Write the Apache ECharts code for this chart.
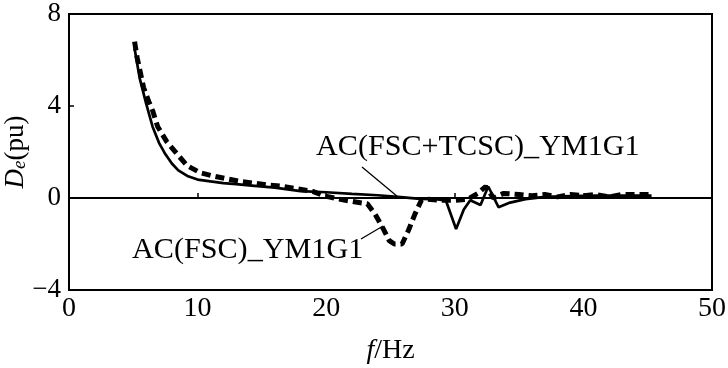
<!DOCTYPE html>
<html>
<head>
<meta charset="utf-8">
<script src="https://cdn.jsdelivr.net/npm/echarts@6/dist/echarts.min.js"></script>
<style>html,body{margin:0;padding:0;background:#fff;}#c{width:728px;height:368px;}</style>
</head>
<body>
<div id="c"></div>
<script>
const xTicks = [0, 10, 20, 30, 40, 50];
const yTicks = [-4, 0, 4, 8];

const fscName = 'AC(FSC)_YM1G1';
const fscX = [5.1, 5.3, 5.8, 6.2, 6.5, 6.9, 7.6, 8.5, 9.2, 10.2, 11.2, 12.3, 13.3, 14.3, 15.4, 16.4, 17.5, 19.0, 19.8, 21.0, 22.0, 22.8, 23.2, 23.8, 24.4, 24.9, 25.3, 25.9, 26.4, 26.9, 27.4, 27.8, 29.0, 30.0, 31.0, 31.8, 32.4, 33.0, 33.8, 35, 36, 37, 38, 39, 40, 41, 42, 43, 44, 45.3];
const fscY = [6.8, 6.1, 4.8, 4.2, 3.8, 3.1, 2.45, 1.85, 1.4, 1.1, 0.96, 0.83, 0.72, 0.65, 0.57, 0.52, 0.42, 0.28, 0.1, -0.05, -0.15, -0.22, -0.25, -0.7, -1.3, -1.85, -2.0, -2.0, -1.4, -0.7, -0.1, -0.05, -0.1, -0.1, -0.05, 0.2, 0.5, 0.0, 0.2, 0.15, 0.1, 0.15, 0.05, 0.15, 0.1, 0.15, 0.05, 0.15, 0.15, 0.15];

const tcscName = 'AC(FSC+TCSC)_YM1G1';
const tcscX = [5.1, 5.5, 6.0, 6.5, 7.0, 7.5, 8.0, 8.5, 9.2, 10.0, 11.0, 12.0, 13.0, 14.0, 16.0, 18.0, 20.0, 22.0, 24.0, 25.8, 27.3, 28.5, 29.3, 30.1, 30.7, 31.2, 32.0, 32.6, 33.4, 34.3, 35.5, 37, 39, 41, 43, 45.3];
const tcscY = [6.5, 5.2, 4.1, 3.1, 2.4, 1.9, 1.5, 1.2, 0.96, 0.8, 0.72, 0.65, 0.6, 0.55, 0.45, 0.3, 0.25, 0.18, 0.12, 0.04, -0.04, -0.05, -0.1, -1.35, -0.5, -0.1, -0.3, 0.5, -0.4, -0.2, -0.05, 0.05, 0.08, 0.1, 0.1, 0.1];

const FONT = '"Liberation Serif", "Times New Roman", serif';
const pairs = (xs, ys) => xs.map((x, i) => [x, ys[i]]);

const chart = echarts.init(document.getElementById('c'), null, {renderer: 'canvas'});
chart.setOption({
  animation: false,
  backgroundColor: '#fff',
  grid: {left: 69, right: 16, top: 14, bottom: 78, containLabel: false, outerBoundsMode: 'none',
         show: true, borderColor: '#000', borderWidth: 2, backgroundColor: 'transparent'},
  xAxis: {
    type: 'value', min: xTicks[0], max: xTicks[xTicks.length - 1], interval: 10,
    axisLine: {lineStyle: {color: '#000', width: 2}},
    axisTick: {inside: true, length: 5, lineStyle: {color: '#000', width: 1.5}},
    splitLine: {show: false},
    axisLabel: {color: '#000', fontFamily: FONT, fontSize: 28, margin: 5},
    name: '{i|f}{n|/Hz}', nameLocation: 'middle', nameGap: 47, nameMoveOverlap: false,
    nameTextStyle: {rich: {i: {fontFamily: FONT, fontSize: 28, fontStyle: 'italic', color: '#000'}, n: {fontFamily: FONT, fontSize: 28, color: '#000'}}}
  },
  yAxis: {
    type: 'value', min: yTicks[0], max: yTicks[yTicks.length - 1], interval: 4,
    axisLine: {lineStyle: {color: '#000', width: 2}},
    axisTick: {inside: true, length: 5, lineStyle: {color: '#000', width: 1.5}},
    splitLine: {show: false},
    axisLabel: {color: '#000', fontFamily: FONT, fontSize: 27, margin: 8, formatter: v => String(v).replace('-', '\u2212')},
    name: '{i|D}{s|e}{n|(pu)}', nameLocation: 'middle', nameGap: 40, nameRotate: 90, nameMoveOverlap: false,
    nameTextStyle: {rich: {
      i: {fontFamily: FONT, fontSize: 27, fontStyle: 'italic', color: '#000'},
      s: {fontFamily: FONT, fontSize: 19, fontStyle: 'italic', color: '#000', verticalAlign: 'bottom', padding: [8, 0, 0, 0]},
      n: {fontFamily: FONT, fontSize: 27, color: '#000'}}}
  },
  series: [
    {name: tcscName, type: 'line', data: pairs(tcscX, tcscY), showSymbol: false, smooth: false,
     lineStyle: {color: '#000', width: 2.7, type: 'solid'}, z: 3},
    {name: fscName, type: 'line', data: pairs(fscX, fscY), showSymbol: false, smooth: false,
     lineStyle: {color: '#000', width: 5, type: [9, 5]}, z: 4}
  ],
  graphic: [
    {type: 'text', x: 316, y: 133, scaleX: 1.04, style: {text: tcscName, font: '29px ' + FONT, fill: '#000'}},
    {type: 'line', shape: {x1: 362, y1: 167, x2: 398, y2: 197}, style: {stroke: '#000', lineWidth: 1.3}},
    {type: 'text', x: 132, y: 236, scaleX: 1.04, style: {text: fscName, font: '29px ' + FONT, fill: '#000'}},
    {type: 'line', shape: {x1: 361, y1: 239, x2: 383, y2: 226}, style: {stroke: '#000', lineWidth: 1.3}}
  ]
});
</script>
</body>
</html>
